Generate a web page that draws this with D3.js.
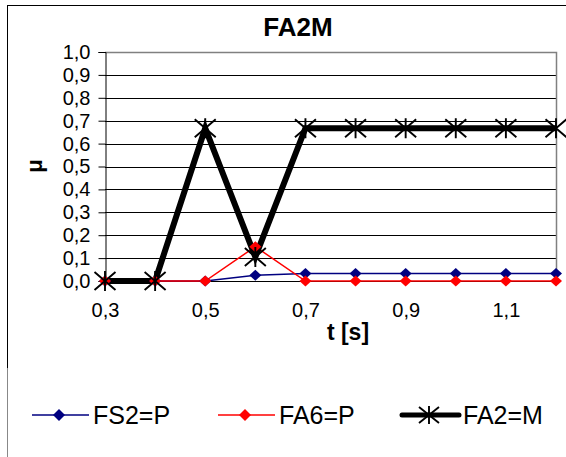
<!DOCTYPE html>
<html><head><meta charset="utf-8">
<script src="https://cdn.jsdelivr.net/npm/d3@7"></script>
<style>body{margin:0;background:#fff}svg{display:block;font-family:Arial,"Liberation Sans",sans-serif}</style>
</head><body><svg id="c" width="566" height="457"></svg>
<script>
const categories = ["0,3","0,4","0,5","0,6","0,7","0,8","0,9","1,0","1,1","1,2"];
const shownTicks = ["0,3","0,5","0,7","0,9","1,1"];
const yTicks = [0,0.1,0.2,0.3,0.4,0.5,0.6,0.7,0.8,0.9,1.0];
const fs2 = [0,0,0,0.025,0.033,0.033,0.033,0.033,0.033,0.033];
const fa6 = [0,0,0,0.15,0,0,0,0,0,0];
const fa2 = [0,0,0.667,0.105,0.667,0.667,0.667,0.667,0.667,0.667];
const seriesNames = ["FS2=P","FA6=P","FA2=M"];
const title = "FA2M", xTitle = "t [s]", yTitle = "μ";

const svg = d3.select("#c");
const x = d3.scalePoint().domain(categories).range([105,556]);
const y = d3.scaleLinear().domain([0,1]).range([281,52]);
const fmt = d => d3.format(".1f")(d).replace(".", ",");

// outer border
svg.append("line").attr("x1",7).attr("x2",566).attr("y1",5.5).attr("y2",5.5).attr("stroke","#000");
svg.append("line").attr("x1",7.5).attr("x2",7.5).attr("y1",5).attr("y2",368).attr("stroke","#000");
svg.append("line").attr("x1",7.5).attr("x2",7.5).attr("y1",368).attr("y2",457).attr("stroke","#888");

// gridlines
svg.append("g").selectAll("line").data(yTicks.filter(d=>d>0 && d<1)).join("line")
  .attr("x1",105).attr("x2",556).attr("y1",d=>Math.round(y(d))+0.5).attr("y2",d=>Math.round(y(d))+0.5)
  .attr("stroke","#000");
// plot border top/right
svg.append("path").attr("d",`M105,${Math.round(y(1))+0.5}H556.5V${y(0)}`).attr("fill","none").attr("stroke","#808080").attr("stroke-width",1.5);
// x axis line
svg.append("line").attr("x1",105).attr("x2",556).attr("y1",Math.round(y(0))+0.5).attr("y2",Math.round(y(0))+0.5).attr("stroke","#000");

// y axis
const ya = svg.append("g").attr("transform","translate(105.5,0)")
  .call(d3.axisLeft(y).tickValues(yTicks).tickFormat(fmt).tickSize(7).tickPadding(8));
ya.select(".domain").attr("stroke","#000");
ya.selectAll(".tick line").attr("stroke","#000");
ya.selectAll("text").attr("font-size",20).attr("fill","#000").attr("font-family","Arial, 'Liberation Sans', sans-serif");

// x axis labels
const xa = svg.append("g").attr("transform",`translate(0,${y(0)})`)
  .call(d3.axisBottom(x).tickValues(shownTicks).tickSize(0).tickPadding(22));
xa.select(".domain").remove();
xa.selectAll("text").attr("font-size",20).attr("fill","#000").attr("font-family","Arial, 'Liberation Sans', sans-serif");

// titles
svg.append("text").attr("x",298).attr("y",36).attr("text-anchor","middle").attr("font-weight","bold").attr("font-size",26).text(title);
svg.append("text").attr("x",348).attr("y",340).attr("text-anchor","middle").attr("font-weight","bold").attr("font-size",23).text(xTitle);
svg.append("text").attr("transform","translate(42,166) rotate(-90)").attr("text-anchor","middle").attr("font-weight","bold").attr("font-size",22).text(yTitle);

const series = [
  {name:seriesNames[0], vals:fs2, color:"#000080", width:1.5, marker:"diamond"},
  {name:seriesNames[1], vals:fa6, color:"#ff0000", width:1.5, marker:"diamond"},
  {name:seriesNames[2], vals:fa2, color:"#000000", width:6, marker:"star"}
];
const line = d3.line().x((d,i)=>x(categories[i])).y(d=>y(d));
series.forEach(s => {
  svg.append("path").datum(s.vals).attr("d",line).attr("fill","none")
    .attr("stroke",s.color).attr("stroke-width",s.width).attr("stroke-linejoin","miter");
});
function drawMarker(g, type, color, cx, cy, rx, ry){
  if(type==="diamond"){
    g.append("path").attr("d",`M${cx},${cy-ry}L${cx+rx},${cy}L${cx},${cy+ry}L${cx-rx},${cy}Z`).attr("fill",color);
  } else {
    g.append("path").attr("d",`M${cx-rx},${cy-ry}L${cx+rx},${cy+ry}M${cx-rx},${cy+ry}L${cx+rx},${cy-ry}M${cx},${cy-ry-1}V${cy+ry+1}`)
      .attr("stroke",color).attr("stroke-width",1.9).attr("fill","none");
  }
}
series.forEach(s => {
  const g = svg.append("g");
  s.vals.forEach((v,i)=>{
    if(s.marker==="star") drawMarker(g,"star",s.color,x(categories[i]),y(v),10.5,9);
    else drawMarker(g,"diamond",s.color,x(categories[i]),y(v),6,5.5);
  });
});

// legend
const legX = [32, 218, 402];
const legY = 415;
series.forEach((s,i)=>{
  const g = svg.append("g");
  g.append("line").attr("x1",legX[i]).attr("x2",legX[i]+57).attr("y1",legY).attr("y2",legY)
    .attr("stroke",s.color).attr("stroke-width", s.marker==="star"?5:1.5).attr("stroke-linecap", s.marker==="star"?"round":"butt");
  if(s.marker==="star") drawMarker(g,"star",s.color,legX[i]+27,legY,10,8);
  else drawMarker(g,"diamond",s.color,legX[i]+27,legY,6,6);
  g.append("text").attr("x",legX[i]+61).attr("y",legY+9).attr("font-size",25).text(s.name);
});
</script></body></html>
